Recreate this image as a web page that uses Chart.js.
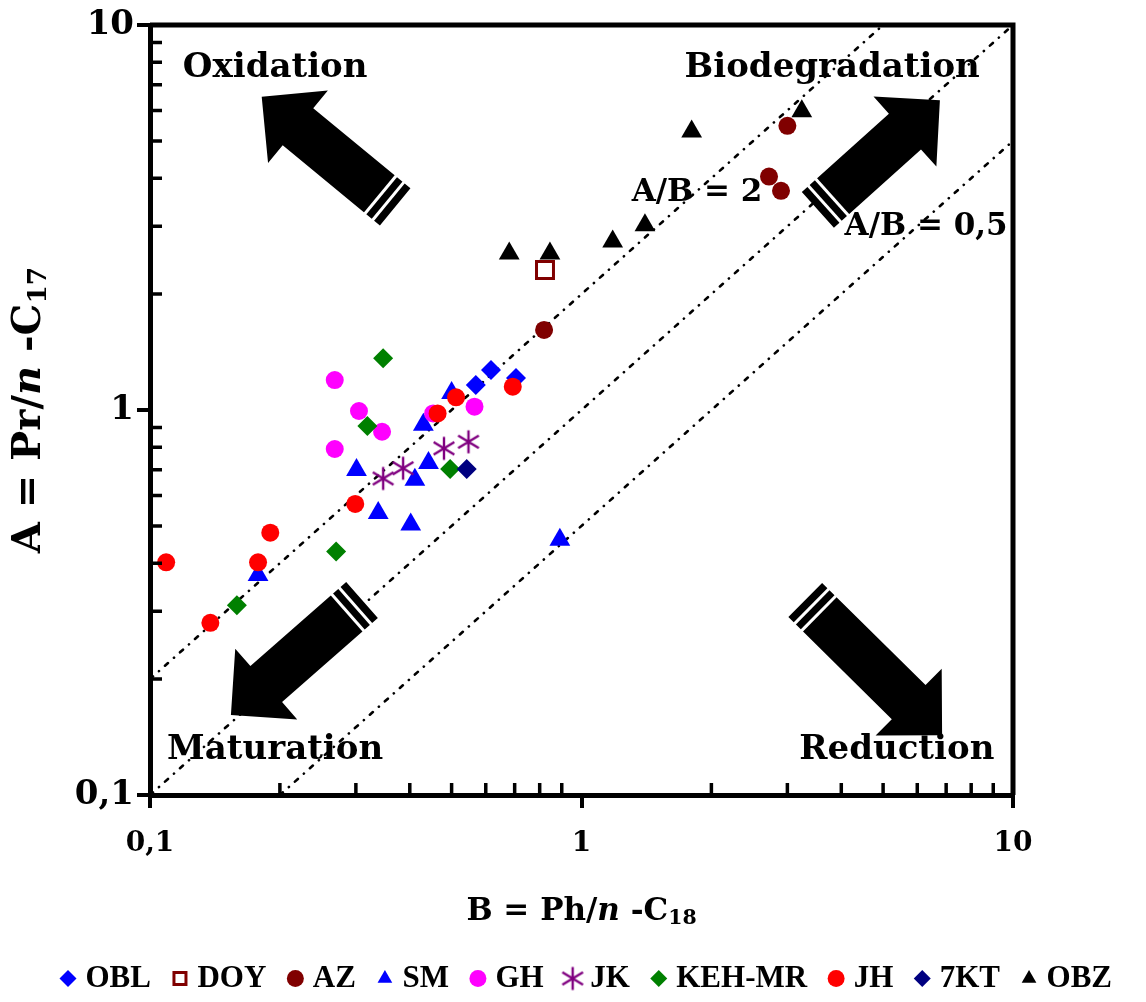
<!DOCTYPE html>
<html><head><meta charset="utf-8">
<script src="https://cdn.jsdelivr.net/npm/chart.js@4.4.1/dist/chart.umd.min.js"></script>
<style>html,body{margin:0;padding:0;background:#fff}#wrap{width:1146px;height:1002px;position:relative}</style>
</head><body><div id="wrap"><canvas id="c" width="1146" height="1002"></canvas></div>
<script>
// ---------- data ----------
const seriesNames = ['OBL','DOY','AZ','SM','GH','JK','KEH-MR','JH','7KT','OBZ'];
const oblX = [0.569, 0.617, 0.705];            const oblY = [1.161, 1.270, 1.211];
const doyX = [0.823];                          const doyY = [2.31];
const azX  = [0.819, 3.00, 2.72, 2.90];         const azY  = [1.614, 5.47, 4.04, 3.71];
const smX  = [0.178, 0.301, 0.338, 0.402, 0.411, 0.442, 0.430, 0.500, 0.891];
const smY  = [0.373, 0.699, 0.540, 0.504, 0.659, 0.728, 0.916, 1.107, 0.460];
const ghX  = [0.268, 0.305, 0.345, 0.268, 0.565, 0.453];
const ghY  = [1.196, 0.994, 0.878, 0.792, 1.02, 0.98];
const jkX  = [0.347, 0.386, 0.480, 0.547];      const jkY  = [0.664, 0.706, 0.795, 0.827];
const kehX = [0.347, 0.319, 0.496, 0.270, 0.159];
const kehY = [1.362, 0.909, 0.703, 0.429, 0.311];
const jhX  = [0.109, 0.138, 0.178, 0.190, 0.299, 0.464, 0.512, 0.693];
const jhY  = [0.402, 0.280, 0.402, 0.480, 0.570, 0.98, 1.079, 1.15];
const kt7X = [0.542];                          const kt7Y = [0.703];
const obzX = [0.680, 0.845, 1.181, 1.403, 1.80, 3.24];
const obzY = [2.55, 2.55, 2.74, 3.02, 5.29, 5.97];

// reference lines A/B = 2, 1, 0.5
const ratio2X = [0.1, 5];   const ratio2Y = [0.2, 10];
const ratio1X = [0.1, 10];  const ratio1Y = [0.1, 10];
const ratio05X = [0.2, 10]; const ratio05Y = [0.1, 5];

// ticks
const tickValues = [0.1,0.2,0.3,0.4,0.5,0.6,0.7,0.8,0.9,1,2,3,4,5,6,7,8,9,10];
const majorTicks = [0.1, 1, 10];
const majorTickLabels = ['0,1', '1', '10'];

// annotations
const quadrantLabels = ['Oxidation', 'Biodegradation', 'Maturation', 'Reduction'];
const quadrantLabelX = [0.195, 3.81, 0.195, 5.38];
const quadrantLabelY = [7.73, 7.73, 0.131, 0.131];
const ratioLabels = ['A/B = 2', 'A/B = 0,5'];
const ratioLabelX = [1.853, 6.29];
const ratioLabelY = [3.66, 2.99];
const arrowTipX  = [0.1815, 6.77, 0.154, 6.85];
const arrowTipY  = [6.51, 6.38, 0.1613, 0.143];
const arrowTailX = [0.370, 3.53, 0.310, 3.30];
const arrowTailY = [3.37, 3.31, 0.321, 0.321];

const xTitleParts = ['B = Ph/', 'n', ' -C', '18'];
const yTitleParts = ['A = Pr/', 'n', ' -C', '17'];

// ---------- helpers ----------
const zip = (xs, ys) => xs.map((x, i) => ({x, y: ys[i]}));
function asteriskCanvas(color, size, lw) {
  const c = document.createElement('canvas');
  c.width = size; c.height = size;
  const g = c.getContext('2d');
  const m = size / 2, r = size / 2 - 1.5;
  g.strokeStyle = color; g.lineWidth = lw; g.lineCap = 'butt';
  g.beginPath();
  g.moveTo(m, m - r); g.lineTo(m, m + r);
  g.moveTo(m - r * 0.9, m - r * 0.55); g.lineTo(m + r * 0.9, m + r * 0.55);
  g.moveTo(m - r * 0.9, m + r * 0.55); g.lineTo(m + r * 0.9, m - r * 0.55);
  g.stroke();
  return c;
}
const jkStar = asteriskCanvas('#800080', 26, 2.4);

const styles = [
  {style:'rectRot', r:10, bg:'#0000FF', bc:'#0000FF', bw:0},
  {style:'rect', r:12, bg:'#FFFFFF', bc:'#800000', bw:3},
  {style:'circle', r:9, bg:'#800000', bc:'#800000', bw:0},
  {style:'triangle', r:12, bg:'#0000FF', bc:'#0000FF', bw:0},
  {style:'circle', r:9, bg:'#FF00FF', bc:'#FF00FF', bw:0},
  {style:jkStar, r:12, bg:'#800080', bc:'#800080', bw:0},
  {style:'rectRot', r:10, bg:'#008000', bc:'#008000', bw:0},
  {style:'circle', r:9, bg:'#FF0000', bc:'#FF0000', bw:0},
  {style:'rectRot', r:10, bg:'#000080', bc:'#000080', bw:0},
  {style:'triangle', r:12, bg:'#000000', bc:'#000000', bw:0}
];
const seriesData = [
  zip(oblX, oblY), zip(doyX, doyY), zip(azX, azY), zip(smX, smY), zip(ghX, ghY),
  zip(jkX, jkY), zip(kehX, kehY), zip(jhX, jhY), zip(kt7X, kt7Y), zip(obzX, obzY)
];

const datasets = seriesNames.map((name, i) => ({
  type: 'scatter', label: name, data: seriesData[i],
  pointStyle: styles[i].style, pointRadius: styles[i].r, pointHoverRadius: styles[i].r,
  backgroundColor: styles[i].bg, borderColor: styles[i].bc, borderWidth: styles[i].bw,
  pointBorderWidth: styles[i].bw,
  order: -i
}));
[[ratio2X, ratio2Y, 'A/B = 2'], [ratio1X, ratio1Y, 'A/B = 1'], [ratio05X, ratio05Y, 'A/B = 0,5']].forEach(([xs, ys, lab]) => {
  datasets.push({
    type: 'line', label: lab, data: zip(xs, ys), showLine: true, fill: false,
    borderColor: '#000', borderWidth: 2.6, borderDash: [4, 8, 0.1, 8], borderCapStyle: 'round',
    pointRadius: 0, pointHoverRadius: 0, order: 100
  });
});

const isMajor = v => majorTicks.some(m => Math.abs(m - v) < 1e-9);
const labelFor = v => { const k = majorTicks.findIndex(m => Math.abs(m - v) < 1e-9); return k >= 0 ? majorTickLabels[k] : ''; };

const PAD_LEFT = 32;
const PAD_BOTTOM = -2;
const TARGET_LEFT = 150;
const TARGET_RIGHT = 1013;
const TARGET_BOTTOM = 795;

function drawRich(ctx, parts, cx, cy, size, family) {
  const segs = parts.map((t, i) => ({ t, italic: i === 1, sub: i === 3 }));
  let total = 0;
  segs.forEach(s => {
    const fs = s.sub ? size * 0.66 : size;
    s.font = (s.italic ? 'italic ' : '') + 'bold ' + fs + 'px "' + family + '"';
    ctx.font = s.font;
    s.w = ctx.measureText(s.t).width;
    s.dy = s.sub ? size * 0.22 : 0;
    total += s.w;
  });
  let x = cx - total / 2;
  ctx.textAlign = 'left'; ctx.textBaseline = 'middle'; ctx.fillStyle = '#000';
  segs.forEach(s => { ctx.font = s.font; ctx.fillText(s.t, x, cy + s.dy); x += s.w; });
}

function drawArrow(ctx, x0, y0, x1, y1) {
  const L = Math.hypot(x1 - x0, y1 - y0);
  const w = 24, h = 47, hl = 47;
  ctx.save();
  ctx.translate(x0, y0);
  ctx.rotate(Math.atan2(y1 - y0, x1 - x0));
  ctx.beginPath();
  ctx.moveTo(0, -w); ctx.lineTo(L - hl, -w); ctx.lineTo(L - hl, -h); ctx.lineTo(L, 0);
  ctx.lineTo(L - hl, h); ctx.lineTo(L - hl, w); ctx.lineTo(0, w); ctx.closePath();
  ctx.fillStyle = '#000'; ctx.fill();
  ctx.strokeStyle = '#fff'; ctx.lineWidth = 3;
  [9, 19].forEach(d => { ctx.beginPath(); ctx.moveTo(d, -w - 1); ctx.lineTo(d, w + 1); ctx.stroke(); });
  ctx.restore();
}

const decorPlugin = {
  id: 'decor',
  afterDatasetsDraw(chart) {
    const ctx = chart.ctx, xs = chart.scales.x, ys = chart.scales.y;
    ctx.save();
    for (let i = 0; i < arrowTipX.length; i++) {
      drawArrow(ctx, xs.getPixelForValue(arrowTailX[i]), ys.getPixelForValue(arrowTailY[i]),
                     xs.getPixelForValue(arrowTipX[i]), ys.getPixelForValue(arrowTipY[i]));
    }
    ctx.fillStyle = '#000'; ctx.textAlign = 'center'; ctx.textBaseline = 'middle';
    ctx.font = 'bold 34px "DejaVu Serif"';
    quadrantLabels.forEach((t, i) => ctx.fillText(t, xs.getPixelForValue(quadrantLabelX[i]), ys.getPixelForValue(quadrantLabelY[i])));
    ctx.font = 'bold 31px "DejaVu Serif"';
    ratioLabels.forEach((t, i) => ctx.fillText(t, xs.getPixelForValue(ratioLabelX[i]), ys.getPixelForValue(ratioLabelY[i])));
    ctx.restore();
  },
  afterDraw(chart) {
    const ctx = chart.ctx, a = chart.chartArea, xs = chart.scales.x, ys = chart.scales.y;
    ctx.save();
    // frame top + right
    ctx.strokeStyle = '#000'; ctx.lineWidth = 5; ctx.lineCap = 'butt';
    ctx.beginPath();
    ctx.moveTo(a.left, a.top); ctx.lineTo(a.right, a.top);
    ctx.moveTo(a.right, a.top - 2.5); ctx.lineTo(a.right, a.bottom);
    ctx.stroke();
    // inner minor ticks
    ctx.lineWidth = 3.5;
    ctx.beginPath();
    tickValues.filter(v => !isMajor(v)).forEach(v => {
      const px = xs.getPixelForValue(v);
      ctx.moveTo(px, a.bottom); ctx.lineTo(px, a.bottom - 12);
      const py = ys.getPixelForValue(v);
      ctx.moveTo(a.left, py); ctx.lineTo(a.left + 12, py);
    });
    ctx.stroke();
    // axis titles
    drawRich(ctx, xTitleParts, (a.left + a.right) / 2, 912, 31, 'DejaVu Serif');
    ctx.save();
    ctx.translate(30, 410);
    ctx.rotate(-Math.PI / 2);
    drawRich(ctx, yTitleParts, 0, 0, 40, 'DejaVu Serif');
    ctx.restore();
    ctx.restore();
  }
};

new Chart(document.getElementById('c'), {
  data: {datasets},
  options: {
    responsive: false, animation: false, devicePixelRatio: 1,
    layout: {padding: {left: PAD_LEFT, right: 0, top: 25, bottom: PAD_BOTTOM}},
    plugins: {
      tooltip: {enabled: false},
      legend: {
        position: 'bottom',
        labels: {
          usePointStyle: true, boxWidth: 4, boxHeight: 12, padding: 27, color: '#000',
          font: {family: 'Liberation Serif', weight: 'bold', size: 31},
          filter: item => item.datasetIndex < seriesNames.length,
          sort: (p, q) => p.datasetIndex - q.datasetIndex
        }
      }
    },
    scales: {
      x: {
        type: 'logarithmic', min: 0.1, max: 10, position: 'bottom',
        afterBuildTicks: s => { s.ticks = tickValues.map(v => ({value: v, major: isMajor(v)})); },
        afterFit: s => { s.height = 1002 - PAD_BOTTOM - s.chart.legend.height - TARGET_BOTTOM; },
        ticks: {autoSkip: false, maxRotation: 0, color: '#000',
                font: {family: 'DejaVu Serif', weight: 'bold', size: 28}, padding: 19,
                callback: v => labelFor(v)},
        grid: {drawOnChartArea: false, drawTicks: true, tickLength: 13,
               color: c => (c.tick && isMajor(c.tick.value)) ? '#000' : 'rgba(0,0,0,0)', lineWidth: 4},
        border: {display: true, color: '#000', width: 5}
      },
      y: {
        type: 'logarithmic', min: 0.1, max: 10, position: 'left',
        afterBuildTicks: s => { s.ticks = tickValues.map(v => ({value: v, major: isMajor(v)})); },
        afterFit: s => { s.width = TARGET_LEFT - PAD_LEFT; },
        ticks: {autoSkip: false, color: '#000',
                font: {family: 'DejaVu Serif', weight: 'bold', size: 34}, padding: 3,
                callback: v => labelFor(v)},
        grid: {drawOnChartArea: false, drawTicks: true, tickLength: 13,
               color: c => (c.tick && isMajor(c.tick.value)) ? '#000' : 'rgba(0,0,0,0)', lineWidth: 4},
        border: {display: true, color: '#000', width: 5}
      },
      rightSpace: {
        type: 'linear', position: 'right', display: true,
        afterFit: s => { s.width = 1146 - TARGET_RIGHT; },
        grid: {display: false, drawTicks: false}, ticks: {display: false}, border: {display: false}
      }
    }
  },
  plugins: [decorPlugin]
});
</script></body></html>
